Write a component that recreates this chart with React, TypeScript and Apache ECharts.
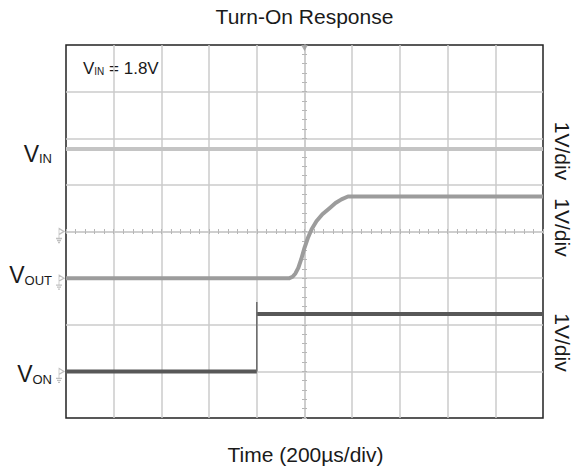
import React, { useEffect, useRef } from "react";
import * as echarts from "echarts";

// Time axis in microseconds (200 µs/div, 10 divisions, trigger at 0)
const timeMin = -1000;
const timeMax = 1000;
const timeStep = 200;
// Vertical axis in divisions (8 divisions, 1 V/div)
const divMin = -4;
const divMax = 4;

// Ground reference level of each channel (divisions from the screen centre)
const groundVin = 0;
const groundVout = -1;
const groundVon = -3;

// VIN trace (V)
const vinTime = [-1000, 1000];
const vinVolts = [1.77, 1.77];

// VOUT trace (V)
const voutTime = [-1000, -63, -50, -38, -26, -14, 0, 14, 30, 50, 75, 105, 130, 155, 182, 1000];
const voutVolts = [0, 0, 0.03, 0.1, 0.22, 0.4, 0.65, 0.86, 1.05, 1.22, 1.37, 1.5, 1.61, 1.69, 1.75, 1.75];

// VON trace (V): low part, high part and the edge (with overshoot spike)
const vonLowTime = [-1000, -200];
const vonLowVolts = [0, 0];
const vonHighTime = [-200, 1000];
const vonHighVolts = [1.23, 1.23];
const vonEdgeTime = [-200, -200];
const vonEdgeVolts = [0, 1.49];

const FONT = "'Liberation Sans', Arial, Helvetica, sans-serif";
const GRID_COLOR = "#cbcbcb";
const TICK_COLOR = "#b5b5b5";

const toPoints = (t: number[], v: number[], ground: number) =>
  t.map((x, i) => [x, v[i] + ground]);

const groundPath =
  "path://M0 0 L5 3 L0 6 Z M0 6 L0 10 M-3 10 L3 10 M-2 12 L2 12 M-1 14 L1 14";

export default function App() {
  const ref = useRef<HTMLDivElement>(null);

  useEffect(() => {
    if (!ref.current) return;
    const chart = echarts.init(ref.current, undefined, { renderer: "svg" });

    const centreTick = {
      show: true,
      length: 2.5,
      lineStyle: { color: TICK_COLOR, width: 1 },
    };
    const centreMinor = {
      show: true,
      splitNumber: 5,
      length: 2.5,
      lineStyle: { color: TICK_COLOR, width: 1 },
    };

    const xBase = {
      type: "value" as const,
      min: timeMin,
      max: timeMax,
      interval: timeStep,
      axisLabel: { show: false },
    };
    const yBase = {
      type: "value" as const,
      min: divMin,
      max: divMax,
      interval: 1,
      axisLabel: { show: false },
    };

    const lineSeries = (
      name: string,
      data: number[][],
      color: string,
      width: number
    ) => ({
      name,
      type: "line" as const,
      data,
      showSymbol: false,
      symbol: "none",
      lineStyle: { color, width, cap: "butt", join: "round" },
      z: 3,
      clip: false,
    });

    const groundMarker = (level: number) => ({
      type: "scatter" as const,
      data: [[timeMin, level]],
      symbol: groundPath,
      symbolSize: [8, 14],
      symbolOffset: [-6, 4],
      itemStyle: { color: "transparent", borderColor: "#b0b0b0", borderWidth: 1 },
      clip: false,
      silent: true,
      z: 4,
    });

    const subLabel = (
      main: string,
      sub: string,
      rest: string,
      big: number,
      small: number
    ) => ({
      text: `{v|${main}}{s|${sub}}` + (rest ? `{v|${rest}}` : ""),
      rich: {
        v: {
          fontSize: big,
          lineHeight: big,
          fontFamily: FONT,
          fill: "#1a1a1a",
          verticalAlign: "bottom",
        },
        s: {
          fontSize: small,
          lineHeight: Math.round(small * 0.9),
          fontFamily: FONT,
          fill: "#1a1a1a",
          verticalAlign: "bottom",
        },
      },
    });

    chart.setOption({
      animation: false,
      backgroundColor: "#ffffff",
      grid: {
        left: 66,
        right: 31,
        top: 45,
        bottom: 56,
        show: true,
        borderColor: "#222222",
        borderWidth: 1.5,
        backgroundColor: "transparent",
      },
      xAxis: [
        {
          ...xBase,
          position: "bottom",
          axisLine: { show: true, onZero: true, lineStyle: { color: GRID_COLOR, width: 1.5 } },
          axisTick: centreTick,
          minorTick: centreMinor,
          splitLine: {
            show: true,
            showMinLine: false,
            showMaxLine: false,
            lineStyle: { color: GRID_COLOR, width: 1.5 },
          },
        },
        {
          ...xBase,
          position: "top",
          axisLine: { show: false, onZero: true },
          axisTick: centreTick,
          minorTick: centreMinor,
          splitLine: { show: false },
        },
      ],
      yAxis: [
        {
          ...yBase,
          position: "left",
          axisLine: { show: true, onZero: true, lineStyle: { color: GRID_COLOR, width: 1.5 } },
          axisTick: centreTick,
          minorTick: centreMinor,
          splitLine: {
            show: true,
            showMinLine: false,
            showMaxLine: false,
            lineStyle: { color: GRID_COLOR, width: 1.5 },
          },
        },
        {
          ...yBase,
          position: "right",
          axisLine: { show: false, onZero: true },
          axisTick: centreTick,
          minorTick: centreMinor,
          splitLine: { show: false },
        },
      ],
      series: [
        lineSeries("VIN", toPoints(vinTime, vinVolts, groundVin), "#c4c4c4", 4),
        lineSeries("VOUT", toPoints(voutTime, voutVolts, groundVout), "#9c9c9c", 4),
        lineSeries("VON low", toPoints(vonLowTime, vonLowVolts, groundVon), "#585858", 4),
        lineSeries("VON high", toPoints(vonHighTime, vonHighVolts, groundVon), "#585858", 4),
        lineSeries("VON edge", toPoints(vonEdgeTime, vonEdgeVolts, groundVon), "#6a6a6a", 1.5),
        groundMarker(groundVin),
        groundMarker(groundVout),
        groundMarker(groundVon),
        {
          type: "scatter",
          data: [[0, divMax]],
          symbol: "triangle",
          symbolRotate: 180,
          symbolSize: [7, 6],
          symbolOffset: [0, 3],
          itemStyle: { color: "#9a9a9a" },
          clip: false,
          silent: true,
          z: 4,
        },
      ],
      graphic: [
        {
          type: "text",
          x: 304.5,
          y: 16,
          style: {
            text: "Turn-On Response",
            fontSize: 21,
            fontFamily: FONT,
            fill: "#1a1a1a",
            align: "center",
            verticalAlign: "middle",
          },
        },
        {
          type: "text",
          x: 305.5,
          y: 454.5,
          style: {
            text: "Time (200µs/div)",
            fontSize: 21,
            fontFamily: FONT,
            fill: "#1a1a1a",
            align: "center",
            verticalAlign: "middle",
          },
        },
        {
          type: "text",
          x: 83,
          y: 68,
          style: {
            ...subLabel("V", "IN", " = 1.8V", 17, 10),
            align: "left",
            verticalAlign: "middle",
          },
        },
        {
          type: "text",
          x: 52,
          y: 153.5,
          style: { ...subLabel("V", "IN", "", 23, 13), align: "right", verticalAlign: "middle" },
        },
        {
          type: "text",
          x: 52,
          y: 275,
          style: { ...subLabel("V", "OUT", "", 23, 13), align: "right", verticalAlign: "middle" },
        },
        {
          type: "text",
          x: 52,
          y: 374,
          style: { ...subLabel("V", "ON", "", 23, 13), align: "right", verticalAlign: "middle" },
        },
        ...[151, 227.5, 342.5].map((cy) => ({
          type: "text",
          x: 562,
          y: cy,
          rotation: -Math.PI / 2,
          style: {
            text: "1V/div",
            fontSize: 21,
            lineHeight: 21,
            fontFamily: FONT,
            fill: "#1a1a1a",
            align: "center",
            verticalAlign: "middle",
          },
        })),
      ],
    });

    return () => chart.dispose();
  }, []);

  return (
    <div
      ref={ref}
      style={{ position: "fixed", left: 0, top: 0, width: 574, height: 474, background: "#fff" }}
    />
  );
}
